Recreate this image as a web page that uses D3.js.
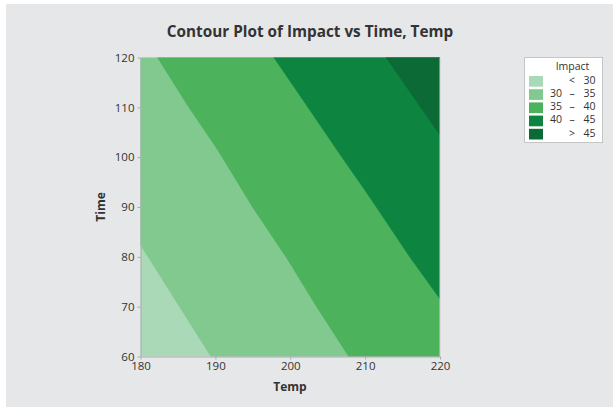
<!DOCTYPE html>
<html>
<head>
<meta charset="utf-8">
<script src="https://cdn.jsdelivr.net/npm/d3@7"></script>
<style>
  html, body { margin: 0; padding: 0; background: #ffffff; }
  svg { display: block; }
  text { font-family: "Open Sans", "Noto Sans", sans-serif; fill: #333333; }
</style>
</head>
<body>
<svg id="chart" width="613" height="407"></svg>
<script>
// ---- data ----
const temps = [180, 190, 200, 210, 220];          // x grid (Temp)
const times = [60, 70, 80, 90, 100, 110, 120];    // y grid (Time)
// Impact values, one row per time (ascending), one column per temp
const impact = [
  [27.46, 30.16, 32.86, 35.60, 38.46],  // Time 60
  [28.59, 31.30, 34.00, 36.85, 39.77],  // Time 70
  [29.73, 32.43, 35.16, 38.15, 41.26],  // Time 80
  [30.86, 33.58, 36.45, 39.51, 42.79],  // Time 90
  [32.00, 34.72, 37.80, 40.99, 44.32],  // Time 100
  [33.15, 36.02, 39.22, 42.53, 45.86],  // Time 110
  [34.29, 37.43, 40.72, 44.06, 47.41]   // Time 120
];
const levels = [30, 35, 40, 45];
const legendLabels = [["", "<", "30"], ["30", "–", "35"], ["35", "–", "40"], ["40", "–", "45"], ["", ">", "45"]];
const colors = ["#a9d9b6", "#82c990", "#4cb25c", "#0d8540", "#0b6a35"];
const xTicks = [180, 190, 200, 210, 220];
const yTicks = [60, 70, 80, 90, 100, 110, 120];

// ---- layout ----
const svg = d3.select("#chart");
const plot = { left: 140.5, right: 440, top: 57.5, bottom: 356.5 };

svg.append("rect").attr("x", 6).attr("y", 4).attr("width", 607).attr("height", 403)
  .attr("fill", "#e6e7e9");

const x = d3.scaleLinear().domain([180, 220]).range([plot.left, plot.right]);
const y = d3.scaleLinear().domain([60, 120]).range([plot.bottom, plot.top]);

// grid coordinate -> data (d3.contours places value i at i+0.5)
const gx = d3.scaleLinear().domain([0.5, temps.length - 0.5]).range([temps[0], temps[temps.length - 1]]);
const gy = d3.scaleLinear().domain([0.5, times.length - 0.5]).range([times[0], times[times.length - 1]]);

const values = impact.flat();
const contours = d3.contours().size([temps.length, times.length]).thresholds(levels)(values);

const proj = d3.geoTransform({
  point: function(px, py) { this.stream.point(x(gx(px)), y(gy(py))); }
});
const path = d3.geoPath(proj);

svg.append("clipPath").attr("id", "clip").append("rect")
  .attr("x", plot.left).attr("y", plot.top)
  .attr("width", plot.right - plot.left).attr("height", plot.bottom - plot.top);

const g = svg.append("g").attr("clip-path", "url(#clip)");
g.append("rect")
  .attr("x", plot.left).attr("y", plot.top)
  .attr("width", plot.right - plot.left).attr("height", plot.bottom - plot.top)
  .attr("fill", colors[0]);
g.selectAll("path.band").data(contours).join("path")
  .attr("class", "band")
  .attr("d", path)
  .attr("fill", (d, i) => colors[i + 1])
  .attr("stroke", (d, i) => colors[i + 1])
  .attr("stroke-width", 0.5);

// ---- axes ----
const axisColor = "#a9abae";
const xAxis = svg.append("g").attr("transform", `translate(0,${plot.bottom})`)
  .call(d3.axisBottom(x).tickValues(xTicks).tickSize(3).tickSizeOuter(0).tickPadding(2));
const yAxis = svg.append("g").attr("transform", `translate(${plot.left},0)`)
  .call(d3.axisLeft(y).tickValues(yTicks).tickSize(3).tickSizeOuter(0).tickPadding(3));
[xAxis, yAxis].forEach(a => {
  a.select(".domain").attr("stroke", axisColor);
  a.selectAll(".tick line").attr("stroke", axisColor);
  a.selectAll(".tick text").attr("fill", "#333333")
    .style("font-family", '"Open Sans", sans-serif').style("font-size", "11.5px");
});
svg.append("line").attr("x1", plot.right).attr("x2", plot.right)
  .attr("y1", plot.top).attr("y2", plot.bottom).attr("stroke", "#cfd0d2").attr("stroke-width", 1);

// ---- titles ----
svg.append("text").attr("x", 310).attr("y", 37).attr("text-anchor", "middle")
  .style("font-size", "15.3px").style("font-weight", "bold").attr("fill", "#222")
  .text("Contour Plot of Impact vs Time, Temp");
svg.append("text").attr("x", 290).attr("y", 391).attr("text-anchor", "middle")
  .style("font-size", "12px").style("font-weight", "bold").attr("fill", "#222")
  .text("Temp");
svg.append("text").attr("transform", "translate(105,207) rotate(-90)").attr("text-anchor", "middle")
  .style("font-size", "12px").style("font-weight", "bold").attr("fill", "#222")
  .text("Time");

// ---- legend ----
const lg = svg.append("g");
lg.append("rect").attr("x", 524.5).attr("y", 57.5).attr("width", 78).attr("height", 85)
  .attr("fill", "#ffffff").attr("stroke", "#c4c5c7");
lg.append("text").attr("x", 572.5).attr("y", 69.5).attr("text-anchor", "middle")
  .style("font-size", "10.5px").text("Impact");
const rows = lg.selectAll("g.row").data(legendLabels).join("g").attr("class", "row")
  .attr("transform", (d, i) => `translate(0,${76 + i * 13.2})`);
rows.append("rect").attr("x", 529).attr("y", 0).attr("width", 14).attr("height", 10.7)
  .attr("fill", (d, i) => colors[i]);
rows.append("text").attr("x", 550).attr("y", 7.8).style("font-size", "10.5px").text(d => d[0]);
rows.append("text").attr("x", 572).attr("y", 7.8).attr("text-anchor", "middle")
  .style("font-size", "10.5px").text(d => d[1]);
rows.append("text").attr("x", 595.5).attr("y", 7.8).attr("text-anchor", "end")
  .style("font-size", "10.5px").text(d => d[2]);
</script>
</body>
</html>
